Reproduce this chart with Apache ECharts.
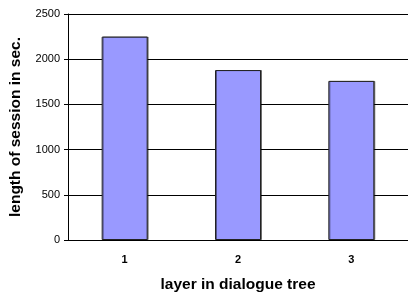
<!DOCTYPE html>
<html><head><meta charset="utf-8">
<script src="https://cdn.jsdelivr.net/npm/echarts@6/dist/echarts.min.js"></script>
<style>html,body{margin:0;padding:0;background:#fff}#c{width:408px;height:298px}</style>
</head><body><div id="c"></div>
<script>
var categories = ['1', '2', '3'];
var sessionLength = [2250, 1880, 1760];
var yTitle = 'length of session in sec.';
var xTitle = 'layer in dialogue tree';

var chart = echarts.init(document.getElementById('c'), null, {renderer: 'canvas'});
chart.setOption({
  animation: false,
  backgroundColor: '#ffffff',
  grid: {left: 66, right: -3, top: 14, bottom: 55, containLabel: false},
  xAxis: {
    type: 'category',
    data: categories,
    name: xTitle,
    nameLocation: 'middle',
    nameGap: 37,
    nameTextStyle: {fontFamily: 'Liberation Sans', fontWeight: 'bold', fontSize: 15.5, color: '#000'},
    axisLine: {show: true, lineStyle: {color: '#000', width: 1}},
    axisTick: {show: false},
    axisLabel: {fontFamily: 'Liberation Sans', fontWeight: 'bold', fontSize: 11, color: '#000', margin: 14}
  },
  yAxis: {
    type: 'value',
    min: 0, max: 2500, interval: 500,
    name: yTitle,
    nameLocation: 'middle',
    nameGap: 44,
    nameTextStyle: {fontFamily: 'Liberation Sans', fontWeight: 'bold', fontSize: 15.5, color: '#000'},
    axisLine: {show: true, lineStyle: {color: '#000', width: 1}},
    axisTick: {show: true, length: 4, lineStyle: {color: '#000'}},
    axisLabel: {fontFamily: 'Liberation Sans', fontSize: 11, color: '#000', margin: 8,
      formatter: function (v) { return String(v); }},
    splitLine: {show: true, lineStyle: {color: '#000', width: 1}}
  },
  series: [{
    type: 'bar',
    data: sessionLength,
    barWidth: 46,
    itemStyle: {color: '#9999ff', borderColor: '#222', borderWidth: 1,
      shadowColor: 'rgba(0,0,0,0.45)', shadowOffsetX: 1, shadowOffsetY: 0, shadowBlur: 0}
  }]
});
</script></body></html>
